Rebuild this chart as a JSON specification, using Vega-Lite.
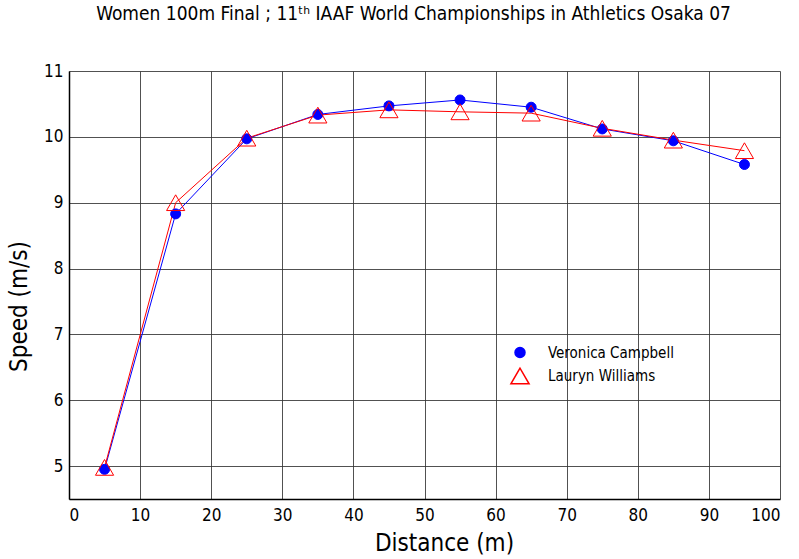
{
  "$schema": "https://vega.github.io/schema/vega-lite/v6.json",
  "autosize": "none",
  "width": 711,
  "height": 428,
  "padding": {"left": 69, "top": 71, "right": 19, "bottom": 60},
  "background": "white",
  "config": {
    "font": "DejaVu Sans Condensed, sans-serif",
    "view": {"stroke": null},
    "axis": {
      "grid": true,
      "gridColor": "#333333",
      "gridWidth": 1,
      "gridOpacity": 0.85,
      "domainColor": "#000000",
      "domainWidth": 1.5,
      "ticks": false,
      "labelColor": "#000000",
      "labelFontSize": 17,
      "titleColor": "#000000",
      "titleFontSize": 24,
      "titleFontWeight": "normal"
    },
    "legend": {
      "orient": "none",
      "legendX": 441,
      "legendY": 274,
      "labelFontSize": 15,
      "labelColor": "#000000",
      "labelOffset": 18,
      "rowPadding": 4
    }
  },
  "title": {
    "text": "Women 100m Final ; 11ᵗʰ IAAF World Championships in Athletics Osaka 07",
    "fontSize": 19,
    "fontWeight": "normal",
    "color": "#000000",
    "anchor": "middle",
    "dx": -11,
    "offset": 38
  },
  "data": {
    "values": [
      {"distance": 5, "speed": 4.95, "athlete": "Veronica Campbell"},
      {"distance": 15, "speed": 8.83, "athlete": "Veronica Campbell"},
      {"distance": 25, "speed": 9.97, "athlete": "Veronica Campbell"},
      {"distance": 35, "speed": 10.34, "athlete": "Veronica Campbell"},
      {"distance": 45, "speed": 10.47, "athlete": "Veronica Campbell"},
      {"distance": 55, "speed": 10.56, "athlete": "Veronica Campbell"},
      {"distance": 65, "speed": 10.45, "athlete": "Veronica Campbell"},
      {"distance": 75, "speed": 10.12, "athlete": "Veronica Campbell"},
      {"distance": 85, "speed": 9.94, "athlete": "Veronica Campbell"},
      {"distance": 95, "speed": 9.58, "athlete": "Veronica Campbell"},
      {"distance": 5, "speed": 4.98, "athlete": "Lauryn Williams"},
      {"distance": 15, "speed": 9.0, "athlete": "Lauryn Williams"},
      {"distance": 25, "speed": 9.98, "athlete": "Lauryn Williams"},
      {"distance": 35, "speed": 10.33, "athlete": "Lauryn Williams"},
      {"distance": 45, "speed": 10.41, "athlete": "Lauryn Williams"},
      {"distance": 55, "speed": 10.38, "athlete": "Lauryn Williams"},
      {"distance": 65, "speed": 10.36, "athlete": "Lauryn Williams"},
      {"distance": 75, "speed": 10.13, "athlete": "Lauryn Williams"},
      {"distance": 85, "speed": 9.95, "athlete": "Lauryn Williams"},
      {"distance": 95, "speed": 9.79, "athlete": "Lauryn Williams"}
    ]
  },
  "encoding": {
    "x": {
      "field": "distance",
      "type": "quantitative",
      "scale": {"domain": [0, 100], "nice": false, "zero": false},
      "axis": {
        "title": "Distance (m)",
        "values": [0, 10, 20, 30, 40, 50, 60, 70, 80, 90, 100],
        "labelPadding": 8,
        "titleX": 375,
        "titleY": 32
      }
    },
    "y": {
      "field": "speed",
      "type": "quantitative",
      "scale": {"domain": [4.5, 11], "nice": false, "zero": false},
      "axis": {
        "title": "Speed (m/s)",
        "values": [5, 6, 7, 8, 9, 10, 11],
        "labelPadding": 6,
        "titleX": -38,
        "titleY": 235
      }
    }
  },
  "layer": [
    {
      "transform": [{"filter": "datum.athlete === 'Veronica Campbell'"}],
      "mark": {"type": "line", "strokeWidth": 1, "stroke": "#0000ff"},
      "encoding": {"order": {"field": "distance"}}
    },
    {
      "transform": [{"filter": "datum.athlete === 'Lauryn Williams'"}],
      "mark": {"type": "line", "strokeWidth": 1, "stroke": "#ff0000"},
      "encoding": {"order": {"field": "distance"}}
    },
    {
      "mark": {"type": "point", "opacity": 1, "strokeWidth": 1},
      "encoding": {
        "shape": {
          "field": "athlete",
          "type": "nominal",
          "title": null,
          "scale": {"domain": ["Veronica Campbell", "Lauryn Williams"], "range": ["circle", "triangle-up"]}
        },
        "fill": {
          "field": "athlete",
          "type": "nominal",
          "title": null,
          "scale": {"domain": ["Veronica Campbell", "Lauryn Williams"], "range": ["#0000ff", "transparent"]}
        },
        "stroke": {
          "field": "athlete",
          "type": "nominal",
          "title": null,
          "scale": {"domain": ["Veronica Campbell", "Lauryn Williams"], "range": ["#0000ff", "#ff0000"]}
        },
        "size": {
          "field": "athlete",
          "type": "nominal",
          "title": null,
          "scale": {"domain": ["Veronica Campbell", "Lauryn Williams"], "range": [100, 330]}
        }
      }
    }
  ]
}
